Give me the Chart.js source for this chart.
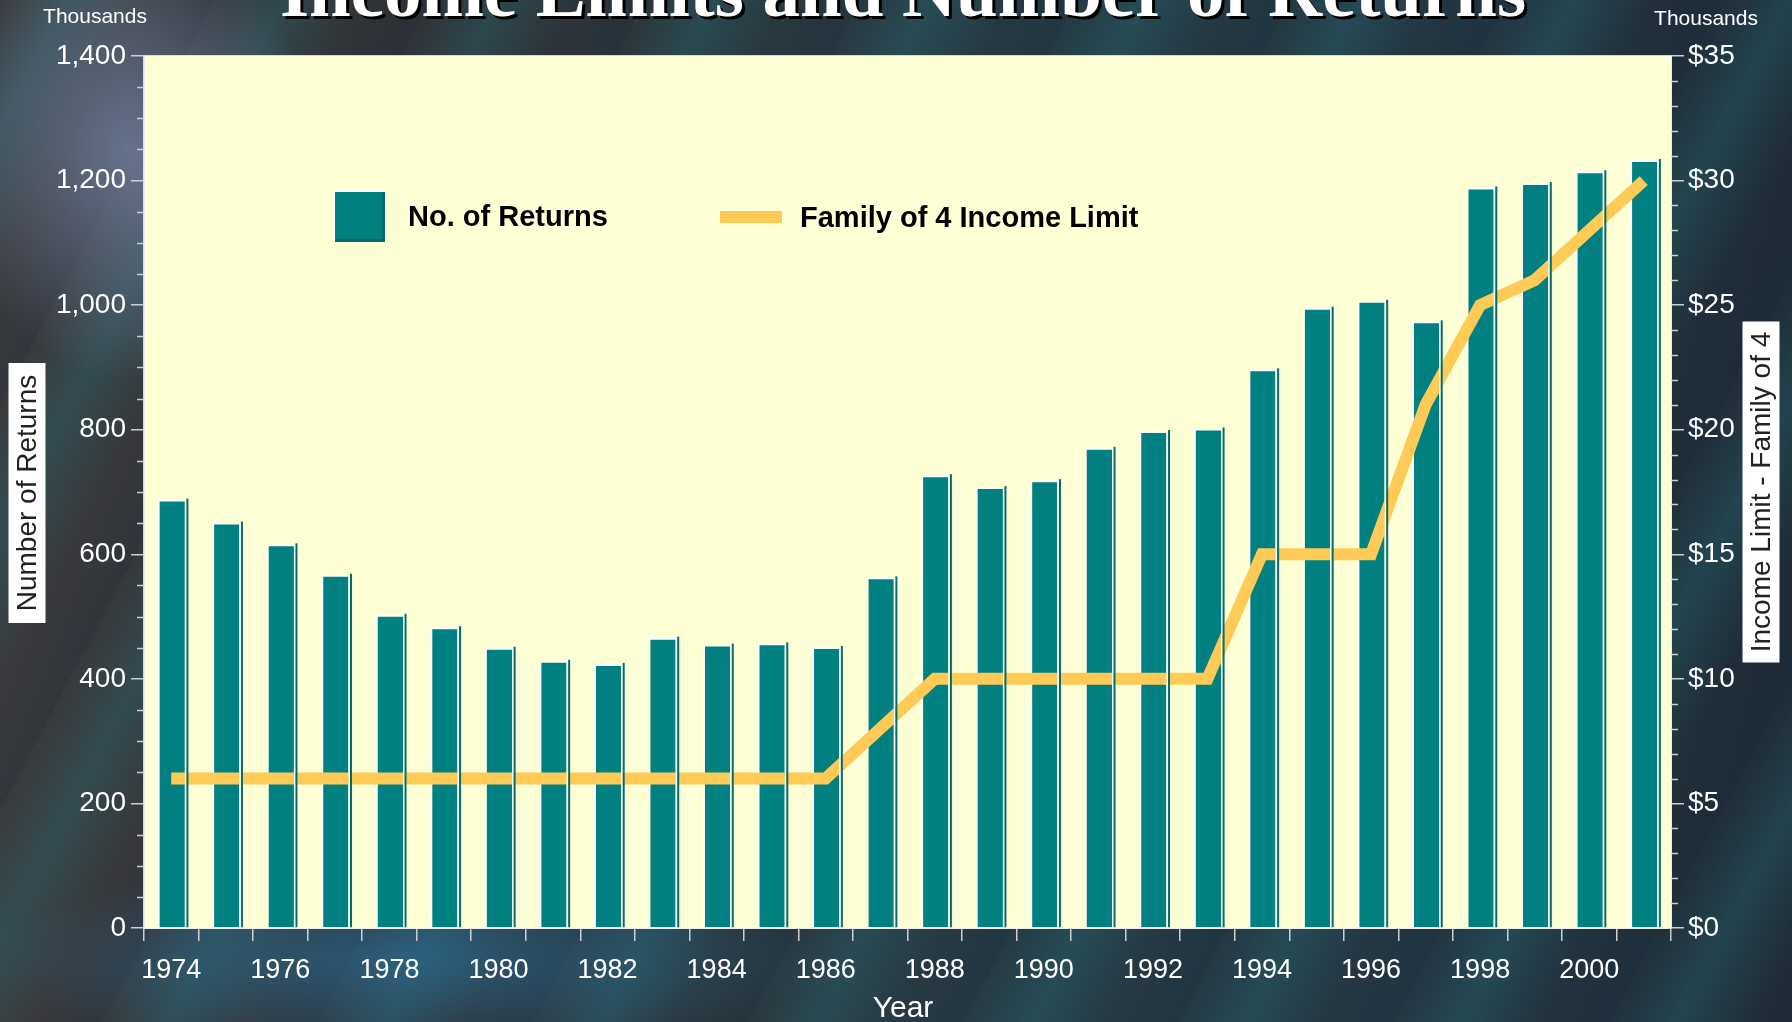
<!DOCTYPE html>
<html>
<head>
<meta charset="utf-8">
<title>Income Limits and Number of Returns</title>
<script src="https://cdn.jsdelivr.net/npm/chart.js@4.4.0/dist/chart.umd.min.js"></script>
<style>
  html, body { margin: 0; padding: 0; }
  body {
    width: 1792px; height: 1022px; overflow: hidden;
    background:
      radial-gradient(ellipse 260px 330px at 130px 150px, rgba(120,135,170,0.75), rgba(120,135,170,0) 70%),
      radial-gradient(ellipse 600px 140px at 400px 960px, rgba(40,120,170,0.55), rgba(40,120,170,0) 70%),
      repeating-linear-gradient(118deg, rgba(40,110,120,0.0) 0px, rgba(40,110,120,0.35) 60px, rgba(30,60,90,0.0) 130px, rgba(20,40,60,0.2) 190px),
      linear-gradient(90deg, #3a3a3c 0%, #2f3236 25%, #263a44 55%, #233642 80%, #1f2b36 100%);
  }
  #wrap { position: absolute; left: 0; top: 0; width: 1792px; height: 1022px; }
</style>
</head>
<body>
<div id="wrap"><canvas id="incomeChart" width="1792" height="1022"></canvas></div>
<script>
const years = ['1974', '1975', '1976', '1977', '1978', '1979', '1980', '1981', '1982', '1983',
    '1984', '1985', '1986', '1987', '1988', '1989', '1990', '1991', '1992', '1993',
    '1994', '1995', '1996', '1997', '1998', '1999', '2000', '2001'];
// number of returns, thousands
const returnsCount = [688, 651, 616, 567, 503, 483, 450, 429, 424, 466,
    455, 457, 451, 563, 727, 708, 719, 771, 798, 802,
    897, 996, 1007, 974, 1189, 1196, 1215, 1233];
// family of 4 income limit, thousands of dollars
const incomeLimit = [6, 6, 6, 6, 6, 6, 6, 6, 6, 6,
    6, 6, 6, 8, 10, 10, 10, 10, 10, 10,
    15, 15, 15, 21, 25, 26, 28, 30];
const leftTicks = [0, 200, 400, 600, 800, 1000, 1200, 1400];
const rightTicks = [0, 5, 10, 15, 20, 25, 30, 35];

const sans = '"Liberation Sans", Arial, sans-serif';
const teal = '#008080';
const gold = '#FFCA55';

document.addEventListener('DOMContentLoaded', () => {
    const decor = {
        id: 'decor',
        beforeDraw(chart) {
            const { ctx, chartArea: a } = chart;
            ctx.save();
            ctx.fillStyle = '#FFFFD6';
            ctx.fillRect(a.left, a.top, a.right - a.left, a.bottom - a.top);
            ctx.strokeStyle = 'rgba(255,255,255,0.8)';
            ctx.lineWidth = 1;
            ctx.strokeRect(a.left - 0.5, a.top - 0.5, a.right - a.left + 1, a.bottom - a.top + 1);
            ctx.restore();
        },
        afterDatasetsDraw(chart) {
            const { ctx } = chart;
            const meta = chart.getDatasetMeta(0);
            ctx.save();
            meta.data.forEach(bar => {
                const r = bar.x + bar.width / 2;
                ctx.fillStyle = '#ffffff';
                ctx.fillRect(r, bar.y, 1.5, bar.base - bar.y);
                ctx.fillStyle = '#006e6e';
                ctx.fillRect(r + 1.5, bar.y - 1, 2, bar.base - bar.y + 1);
            });
            ctx.restore();
        },
        afterDraw(chart) {
            const { ctx, chartArea: a, scales } = chart;
            ctx.save();
            // minor ticks
            ctx.strokeStyle = '#cfcfcf';
            ctx.lineWidth = 1.5;
            for (let v = 50; v < 1400; v += 50) {
                if (v % 200 === 0) continue;
                const y = Math.round(scales.y.getPixelForValue(v)) + 0.5;
                ctx.beginPath(); ctx.moveTo(a.left - 7, y); ctx.lineTo(a.left, y); ctx.stroke();
            }
            for (let v = 1; v < 35; v++) {
                if (v % 5 === 0) continue;
                const y = Math.round(scales.y2.getPixelForValue(v)) + 0.5;
                ctx.beginPath(); ctx.moveTo(a.right, y); ctx.lineTo(a.right + 7, y); ctx.stroke();
            }

            // title, mostly above the top edge
            const title = 'Income Limits and Number of Returns';
            ctx.font = 'bold 100px "Liberation Serif", "Times New Roman", serif';
            const size = 100 * 1246 / ctx.measureText(title).width;
            ctx.font = 'bold ' + size.toFixed(1) + 'px "Liberation Serif", "Times New Roman", serif';
            ctx.textAlign = 'center';
            ctx.textBaseline = 'alphabetic';
            ctx.fillStyle = '#000000';
            ctx.fillText(title, 906, 19);
            ctx.fillStyle = '#ffffff';
            ctx.fillText(title, 903, 16);

            // units
            ctx.font = '21px ' + sans;
            ctx.fillStyle = '#ffffff';
            ctx.textBaseline = 'middle';
            ctx.fillText('Thousands', 95, 17);
            ctx.fillText('Thousands', 1706, 19);

            // x axis title
            ctx.font = '30px ' + sans;
            ctx.fillText('Year', 903, 1009);

            // rotated axis titles in white boxes
            const sideTitle = (text, cx, cy, w, h) => {
                ctx.save();
                ctx.translate(cx, cy);
                ctx.rotate(-Math.PI / 2);
                ctx.fillStyle = '#ffffff';
                ctx.fillRect(-h / 2, -w / 2, h, w);
                ctx.font = '28px ' + sans;
                ctx.fillStyle = '#222222';
                ctx.textAlign = 'center';
                ctx.textBaseline = 'middle';
                ctx.fillText(text, 0, 1);
                ctx.restore();
            };
            sideTitle('Number of Returns', 27, 493, 37, 260);
            sideTitle('Income Limit - Family of 4', 1761, 492, 37, 341);

            // legend
            ctx.fillStyle = '#ffffff';
            ctx.fillRect(333, 190, 50, 50);
            ctx.fillStyle = '#006e6e';
            ctx.fillRect(335, 192, 50, 50);
            ctx.fillStyle = teal;
            ctx.fillRect(335, 192, 47, 47);
            ctx.fillStyle = gold;
            ctx.fillRect(720, 211, 62, 12);
            ctx.font = 'bold 29px ' + sans;
            ctx.fillStyle = '#000000';
            ctx.textAlign = 'left';
            ctx.textBaseline = 'middle';
            ctx.fillText('No. of Returns', 408, 218);
            ctx.fillText('Family of 4 Income Limit', 800, 219);
            ctx.restore();
        }
    };

    const ctx = document.getElementById('incomeChart').getContext('2d');
    new Chart(ctx, {
        data: {
            labels: years,
            datasets: [{
                type: 'bar',
                label: 'No. of Returns',
                data: returnsCount,
                yAxisID: 'y',
                backgroundColor: teal,
                borderColor: '#ffffff',
                borderWidth: { top: 2, left: 2, right: 0, bottom: 0 },
                borderSkipped: 'bottom',
                barPercentage: 0.5,
                categoryPercentage: 1,
                order: 2
            }, {
                type: 'line',
                label: 'Family of 4 Income Limit',
                data: incomeLimit,
                yAxisID: 'y2',
                borderColor: gold,
                borderWidth: 12,
                borderJoinStyle: 'miter',
                borderCapStyle: 'butt',
                pointRadius: 0,
                tension: 0,
                order: 1
            }]
        },
        options: {
            responsive: false,
            animation: false,
            layout: { padding: { top: 56, left: 0, right: 0, bottom: 0 } },
            plugins: { legend: { display: false }, tooltip: { enabled: false } },
            scales: {
                x: {
                    offset: true,
                    grid: { offset: true, drawOnChartArea: false, tickLength: 13, color: '#cfcfcf', lineWidth: 1.5 },
                    border: { display: true, color: '#eeeeee' },
                    ticks: {
                        autoSkip: false, maxRotation: 0, color: '#ffffff', padding: 13,
                        font: { family: sans, size: 27 },
                        callback: (v, i) => (i % 2 === 0 ? years[i] : '')
                    },
                    afterFit: s => { s.height = 94; }
                },
                y: {
                    position: 'left',
                    min: leftTicks[0], max: leftTicks[leftTicks.length - 1],
                    grid: { drawOnChartArea: false, tickLength: 13, color: '#cfcfcf', lineWidth: 1.5 },
                    border: { display: true, color: '#eeeeee' },
                    afterBuildTicks: s => { s.ticks = leftTicks.map(v => ({ value: v })); },
                    ticks: {
                        color: '#ffffff', padding: 5,
                        font: { family: sans, size: 28 },
                        callback: v => v.toLocaleString('en-US')
                    },
                    afterFit: s => { s.width = 144; }
                },
                y2: {
                    position: 'right',
                    min: rightTicks[0], max: rightTicks[rightTicks.length - 1],
                    grid: { drawOnChartArea: false, tickLength: 13, color: '#cfcfcf', lineWidth: 1.5 },
                    border: { display: true, color: '#eeeeee' },
                    afterBuildTicks: s => { s.ticks = rightTicks.map(v => ({ value: v })); },
                    ticks: {
                        color: '#ffffff', padding: 4,
                        font: { family: sans, size: 28 },
                        callback: v => '$' + v
                    },
                    afterFit: s => { s.width = 121; }
                }
            }
        },
        plugins: [decor]
    });
});
</script>
</body>
</html>
